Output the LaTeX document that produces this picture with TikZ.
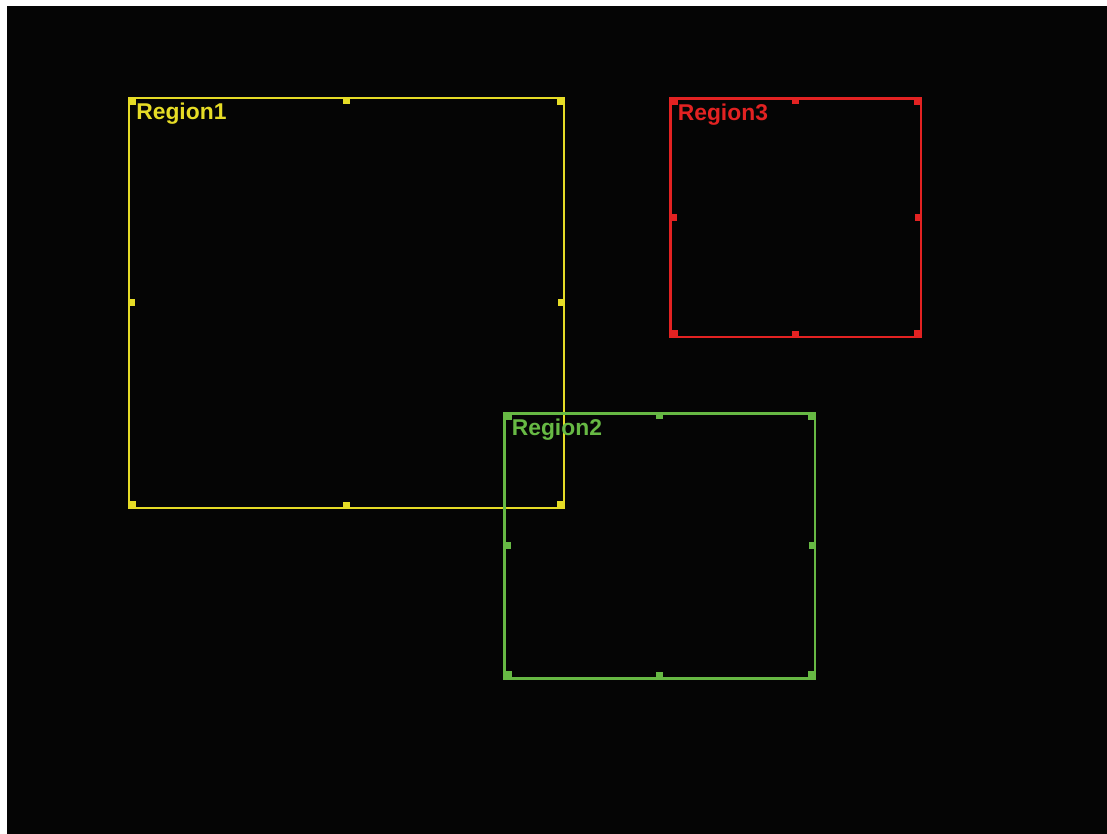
\documentclass[tikz,border=0pt]{standalone}
\usepackage{fontspec}
\setmainfont{Liberation Sans}
\usepackage{tikz}
\usetikzlibrary{positioning}
\definecolor{Couleur1}{HTML}{E6DC26}
\definecolor{Couleur2}{HTML}{67B944}
\definecolor{Couleur3}{HTML}{E32222}
\definecolor{Fond}{HTML}{050505}
\tikzset{
  cadre/.style={draw=#1, line width=1.4pt},
  poignee/.style={fill=#1},
  etiquette/.style={text=#1, font=\bfseries\fontsize{13}{15}\selectfont, anchor=base west, inner sep=0pt}
}

\begin{document}
\begin{tikzpicture}[x=0.02cm, y=-0.02cm]
\useasboundingbox (0,0) rectangle (1107,834);
% Fond noir
\fill[Fond] (7,6) rectangle (1107,834);

% Cadres, poignées et noms des régions
\foreach \nom/\coul/\L/\T/\R/\B in {Region1/Couleur1/128/97/565/509,
    Region3/Couleur3/669.5/97.5/922/338,
    Region2/Couleur2/503.5/412.5/816/679.5}{
  \pgfmathsetmacro\cx{(\L+\R)/2}
  \pgfmathsetmacro\cy{(\T+\B)/2}
  \draw[cadre=\coul] (\L+1.2,\T+1.2) rectangle (\R-1.2,\B-1.2);
  % Poignées des coins
  \fill[poignee=\coul] (\L,\T) rectangle (\L+8,\T+8);
  \fill[poignee=\coul] (\R-8,\T) rectangle (\R,\T+8);
  \fill[poignee=\coul] (\L,\B-8) rectangle (\L+8,\B);
  \fill[poignee=\coul] (\R-8,\B-8) rectangle (\R,\B);
  % Poignées des milieux
  \fill[poignee=\coul] (\cx-3.5,\T) rectangle (\cx+3.5,\T+7);
  \fill[poignee=\coul] (\cx-3.5,\B-7) rectangle (\cx+3.5,\B);
  \fill[poignee=\coul] (\L,\cy-3.5) rectangle (\L+7,\cy+3.5);
  \fill[poignee=\coul] (\R-7,\cy-3.5) rectangle (\R,\cy+3.5);
  \node[etiquette=\coul] (\nom) at (\L+8,\T+23) {\nom};
}
\end{tikzpicture}
\end{document}
